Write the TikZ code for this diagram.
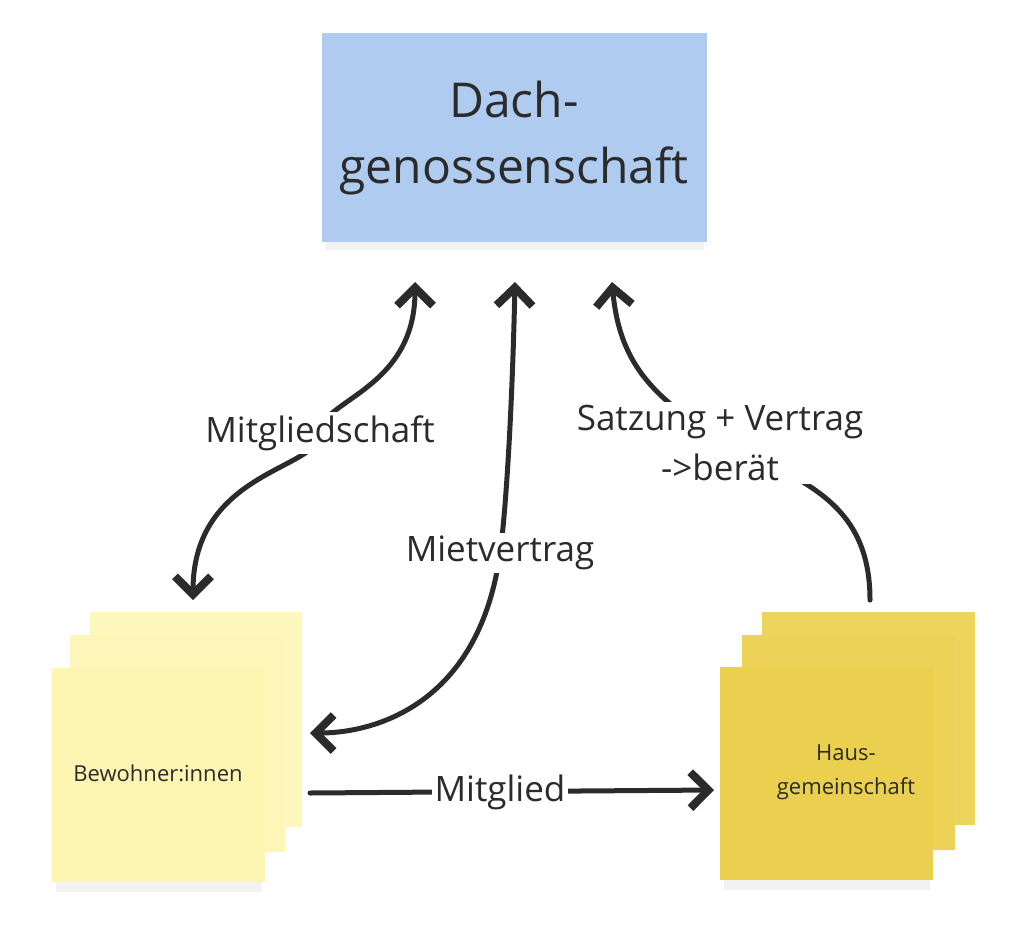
\documentclass[tikz,border=0pt]{standalone}
\usepackage{fontspec}
\setmainfont{Open Sans}
\usetikzlibrary{arrows.meta}
\definecolor{dachblue}{HTML}{AFCBF0}
\definecolor{lightyel}{HTML}{FDF5B2}
\definecolor{darkyel}{HTML}{EBD04F}
\definecolor{ink}{HTML}{2B2B2B}
\tikzset{
  conn/.style={draw=ink, line width=5pt, line cap=round},
  barb/.tip={Straight Barb[length=18pt,width=36pt,line width=8pt]},
  lbl/.style={fill=white, inner sep=3pt, text=ink, font=\fontsize{35}{40}\selectfont}
}
\begin{document}
\begin{tikzpicture}[x=1pt,y=-1pt]
\useasboundingbox (0,0) rectangle (1024,928);
% shadows
\fill[black!5] (326,242) rectangle (704,250);
\fill[black!5] (56,882) rectangle (262,892);
\fill[black!5] (724,880) rectangle (930,890);
% blue box
\fill[dachblue] (322,33) rectangle (707,242);
\node[text=ink, align=center, font=\fontsize{48}{66}\selectfont] (dach) at (514,138) {Dach-\\genossenschaft};
% left stack
\fill[lightyel!85!white] (90,612) rectangle (302,827);
\fill[lightyel!92!white] (70,635) rectangle (285,852);
\fill[lightyel] (52,668) rectangle (265,882);
\node[text=ink, font=\fontsize{22}{26}\selectfont] (bew) at (158,773) {Bewohner:innen};
% right stack
\fill[darkyel!92!white] (762,612) rectangle (975,825);
\fill[darkyel!96!white] (742,635) rectangle (955,850);
\fill[darkyel] (720,667) rectangle (933,880);
\node[text=ink, align=center, font=\fontsize{22}{34}\selectfont] (haus) at (846,772) {Haus-\\gemeinschaft};
% connectors
\coordinate (t1) at (415,282);
\coordinate (t2) at (515,282);
\coordinate (t3) at (612,282);
\coordinate (b1) at (193,600);
\coordinate (b2) at (310,733);
\coordinate (b3) at (870,600);
\coordinate (m1) at (310,793);
\coordinate (m2) at (714,790);
\draw[conn, barb-barb]
  (t1) .. controls (415,390) and (320,400) .. (320,433) .. controls (320,470) and (193,470) .. (b1);
\node[lbl] (l1) at (320,433) {Mitgliedschaft};
\draw[conn, barb-barb]
  (t2) .. controls (512,420) and (505,520) .. (500,553) .. controls (480,700) and (380,733) .. (b2);
\node[lbl] (l2) at (500,553) {Mietvertrag};
\draw[conn, barb-]
  (t3) .. controls (620,370) and (660,400) .. (720,440) .. controls (800,480) and (870,500) .. (b3);
\node[lbl, align=center, font=\fontsize{35}{50}\selectfont] (l3) at (720,443) {Satzung + Vertrag\\->berät};
\draw[conn, -barb] (m1) -- (m2);
\node[lbl] (l4) at (500,792) {Mitglied};
\end{tikzpicture}
\end{document}
